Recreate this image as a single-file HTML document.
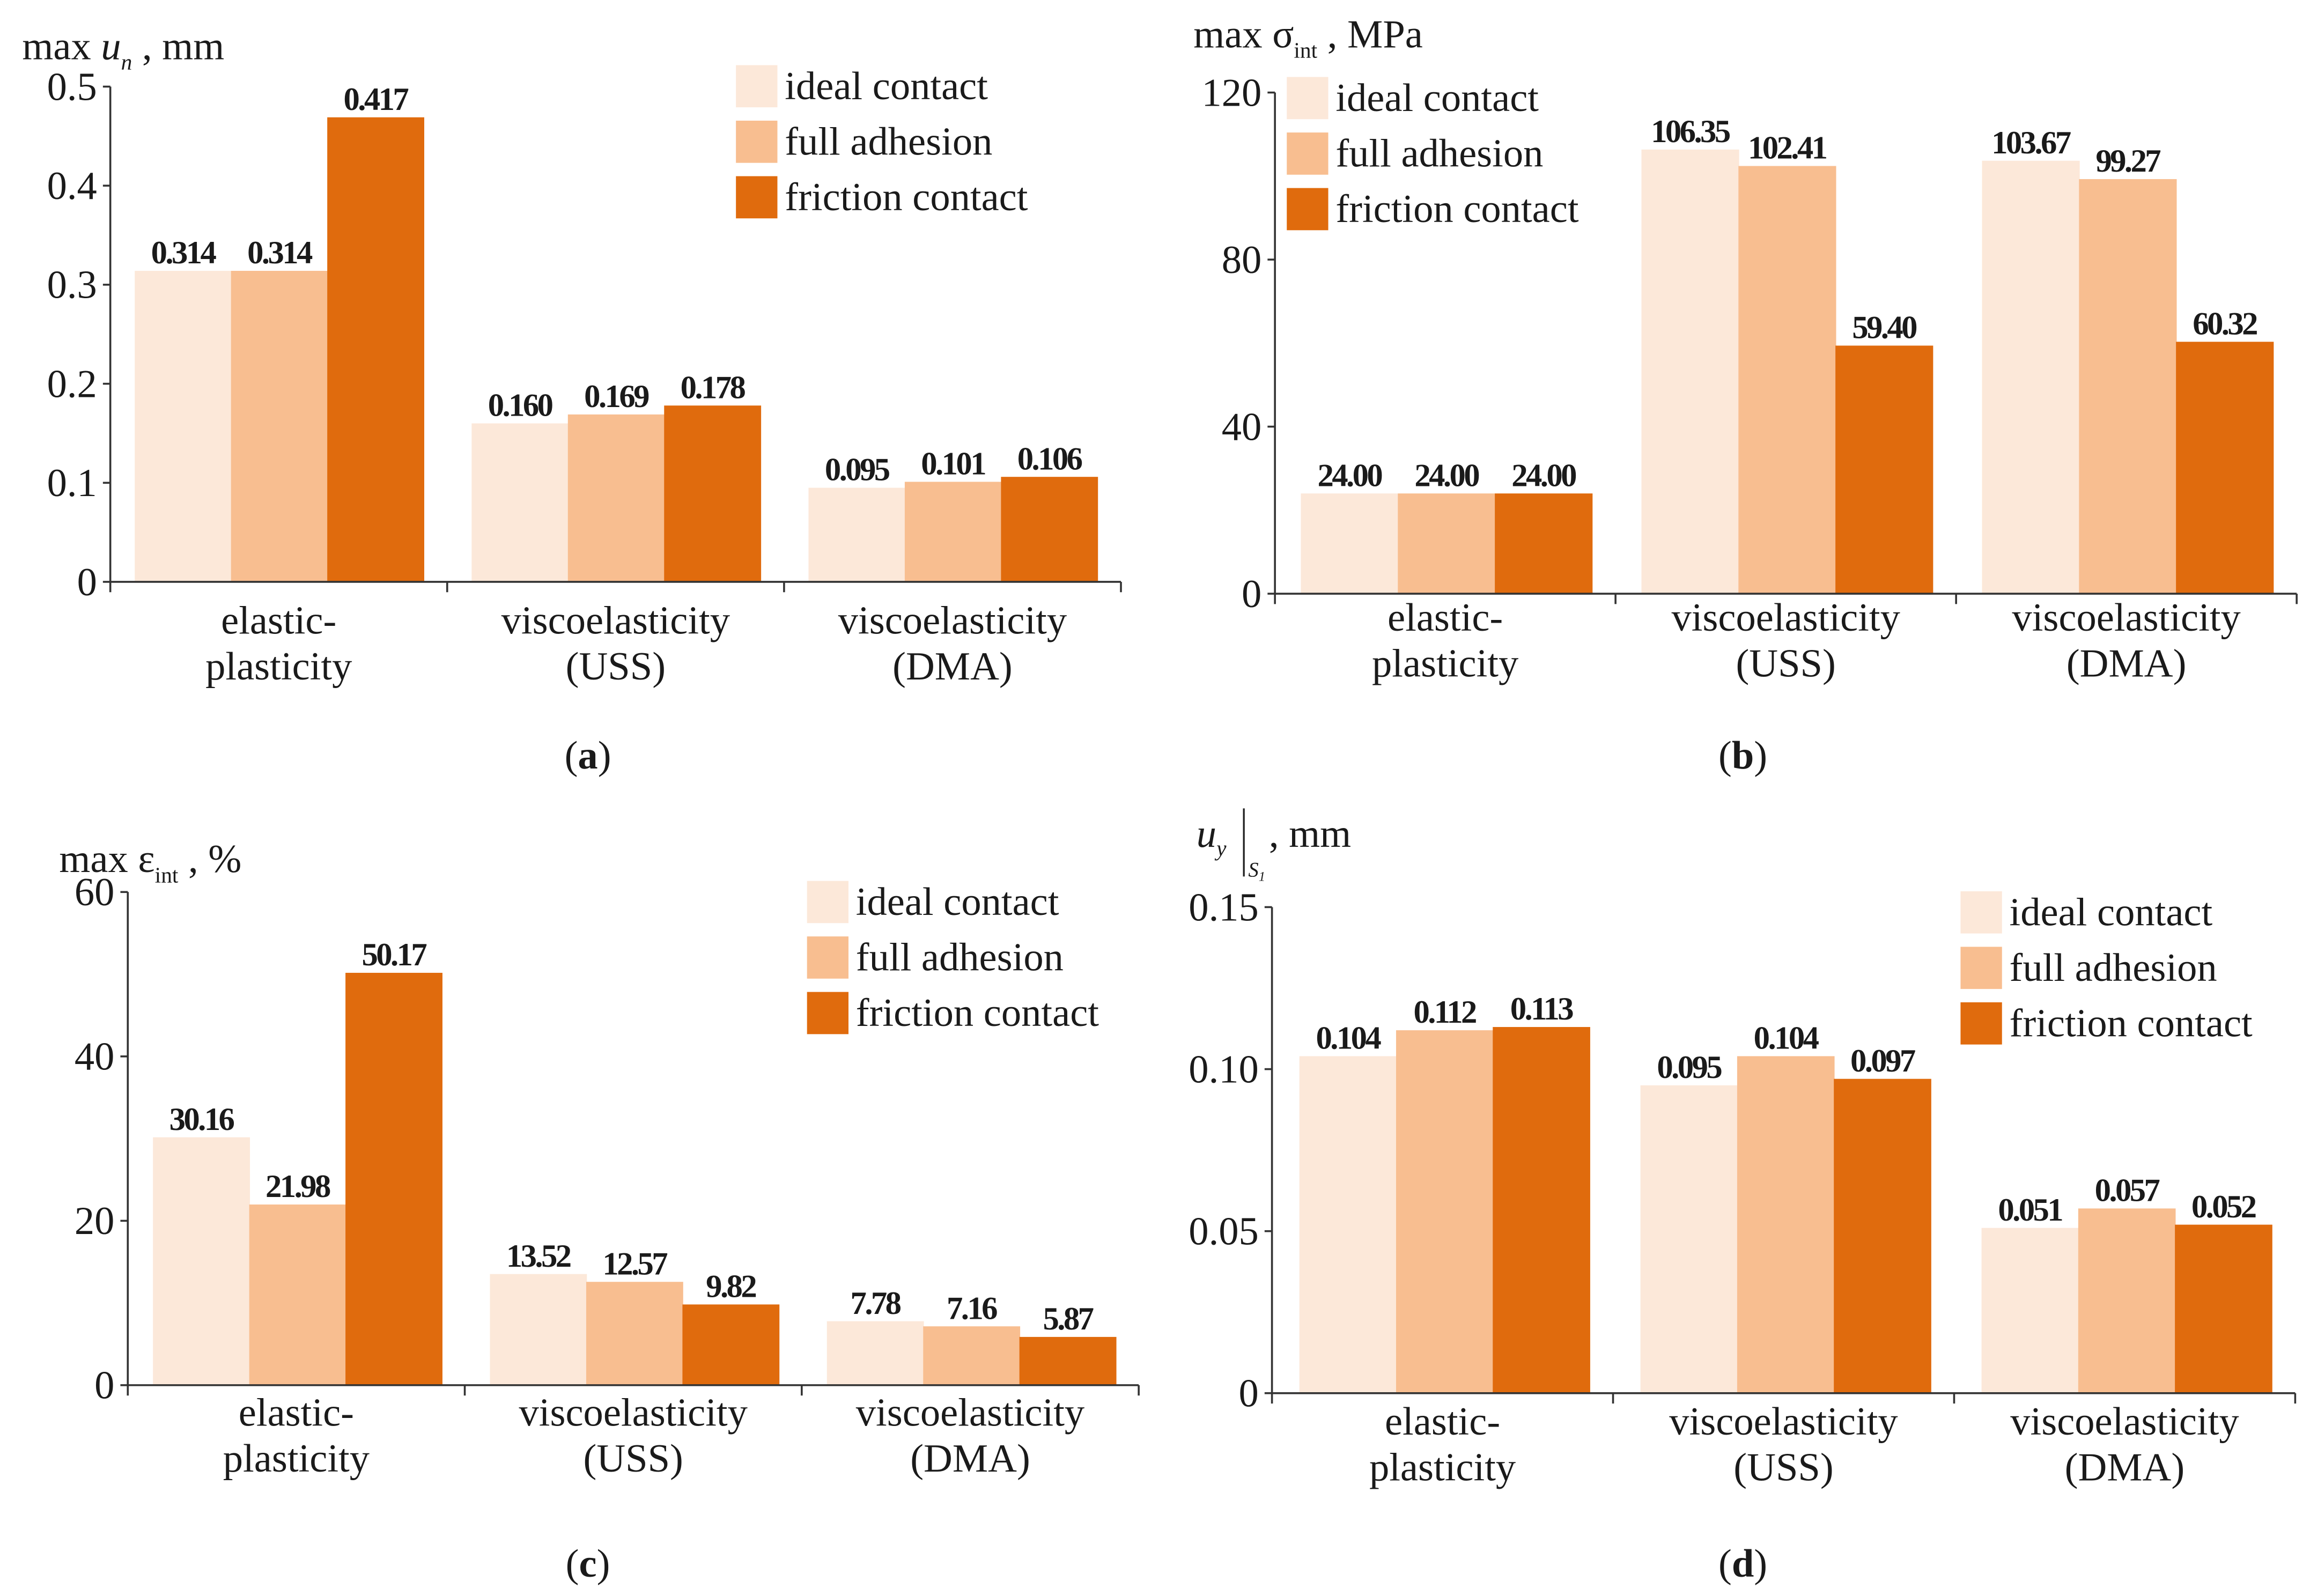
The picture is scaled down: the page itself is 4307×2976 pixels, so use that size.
<!DOCTYPE html>
<html><head><meta charset="utf-8"><style>
html,body{margin:0;padding:0;background:#fff}
svg{display:block}
svg text{font-family:"Liberation Serif","DejaVu Serif",serif;fill:#1a1a1a}
.v{font-weight:bold;font-size:22px;letter-spacing:-1.3px}
</style></head><body>
<svg id="fig" width="4307" height="2976" viewBox="0 0 1560 1078" preserveAspectRatio="none" xmlns="http://www.w3.org/2000/svg" font-family="Liberation Serif, DejaVu Serif, serif"></svg>
<script>
const categories = [["elastic-","plasticity"],["viscoelasticity","(USS)"],["viscoelasticity","(DMA)"]];
const seriesNames = ["ideal contact","full adhesion","friction contact"];
const colors = ["#fce8d9","#f8be90","#e06b0d"];
// panel a
const aIdeal = [0.314,0.160,0.095];
const aFull = [0.314,0.169,0.101];
const aFriction = [0.469,0.178,0.106];
const aLabels = [["0.314","0.314","0.417"],["0.160","0.169","0.178"],["0.095","0.101","0.106"]];
const aTicks = [0,0.1,0.2,0.3,0.4,0.5];
const aTickLabels = ["0","0.1","0.2","0.3","0.4","0.5"];
// panel b
const bIdeal = [24.00,106.35,103.67];
const bFull = [24.00,102.41,99.27];
const bFriction = [24.00,59.40,60.32];
const bLabels = [["24.00","24.00","24.00"],["106.35","102.41","59.40"],["103.67","99.27","60.32"]];
const bTicks = [0,40,80,120];
const bTickLabels = ["0","40","80","120"];
// panel c
const cIdeal = [30.16,13.52,7.78];
const cFull = [21.98,12.57,7.16];
const cFriction = [50.17,9.82,5.87];
const cLabels = [["30.16","21.98","50.17"],["13.52","12.57","9.82"],["7.78","7.16","5.87"]];
const cTicks = [0,20,40,60];
const cTickLabels = ["0","20","40","60"];
// panel d
const dIdeal = [0.104,0.095,0.051];
const dFull = [0.112,0.104,0.057];
const dFriction = [0.113,0.097,0.052];
const dLabels = [["0.104","0.112","0.113"],["0.095","0.104","0.097"],["0.051","0.057","0.052"]];
const dTicks = [0,0.05,0.10,0.15];
const dTickLabels = ["0","0.05","0.10","0.15"];

const NS="http://www.w3.org/2000/svg";
const svg=document.getElementById('fig');
function mk(tag,attrs,parent){const e=document.createElementNS(NS,tag);for(const k in attrs)e.setAttribute(k,attrs[k]);if(tag==='text')e.setAttribute('font-family','Liberation Serif, DejaVu Serif, serif');(parent||svg).appendChild(e);return e;}

function panel(p){
  const g=mk('g',{});
  
  
  const y=v=>p.y0-(v-p.ticks[0])/(p.ticks[p.ticks.length-1]-p.ticks[0])*(p.y0-p.yTop);
  const band=(p.x1-p.x0)/3;
  const series=[p.s0,p.s1,p.s2];
  for(let c=0;c<3;c++){
    for(let s=0;s<3;s++){
      const bx=p.x0+c*band+p.pad+s*p.bw;
      const r=mk('rect',{x:bx,y:y(series[s][c]),width:p.bw+0.5,height:p.y0-y(series[s][c]),fill:colors[s]},g);
      
      
      const t=mk('text',{x:bx+p.bw/2,y:y(series[s][c])-5,'text-anchor':'middle',class:'v'},g);
      t.textContent=p.labels[c][s];
      
      
    }
    categories[c].forEach((ln,i)=>{
      const t=mk('text',{x:p.x0+c*band+band/2,y:p.catY+i*31,'text-anchor':'middle','font-size':27},g);
      t.textContent=ln;
      
      
    });
  }
  mk('line',{x1:p.x0,y1:p.yTop,x2:p.x0,y2:p.y0+7,stroke:'#333','stroke-width':1.3},g);
  mk('line',{x1:p.x0,y1:p.y0,x2:p.x1,y2:p.y0,stroke:'#333','stroke-width':1.3},g);
  for(let c=1;c<=3;c++) mk('line',{x1:p.x0+c*band,y1:p.y0,x2:p.x0+c*band,y2:p.y0+7,stroke:'#333','stroke-width':1.3},g);
  p.ticks.forEach((tv,i)=>{
    mk('line',{x1:p.x0-5,y1:y(tv),x2:p.x0,y2:y(tv),stroke:'#333','stroke-width':1.3},g);
    const t=mk('text',{x:p.x0-9,y:y(tv)+9,'text-anchor':'end','font-size':27},g);
    t.textContent=p.tickLabels[i];
    
    
  });
  seriesNames.forEach((n,i)=>{
    mk('rect',{x:p.lx,y:p.ly+i*37.5,width:28,height:28.5,fill:colors[i]},g);
    const t=mk('text',{x:p.lx+33,y:p.ly+i*37.5+23,'font-size':27},g);
    t.textContent=n;
    
    
  });
  const cap=mk('text',{x:p.capX,y:p.capY+9,'text-anchor':'middle','font-size':27},g);
  cap.innerHTML='(<tspan font-weight="bold">'+p.id+'</tspan>)';
  
  
  return g;
}

panel({id:'a',s0:aIdeal,s1:aFull,s2:aFriction,labels:aLabels,ticks:aTicks,tickLabels:aTickLabels,x0:74.5,x1:757,y0:393,yTop:58.5,pad:16.5,bw:65,catY:428,lx:497,ly:44,capX:397,capY:510});
panel({id:'b',s0:bIdeal,s1:bFull,s2:bFriction,labels:bLabels,ticks:bTicks,tickLabels:bTickLabels,x0:861,x1:1551,y0:401,yTop:62.5,pad:17.5,bw:65.5,catY:426,lx:869,ly:52,capX:1177,capY:510});
panel({id:'c',s0:cIdeal,s1:cFull,s2:cFriction,labels:cLabels,ticks:cTicks,tickLabels:cTickLabels,x0:86.3,x1:769,y0:935.6,yTop:602.5,pad:17,bw:65,catY:963,lx:545,ly:595,capX:397,capY:1056});
panel({id:'d',s0:dIdeal,s1:dFull,s2:dFriction,labels:dLabels,ticks:dTicks,tickLabels:dTickLabels,x0:859,x1:1550,y0:941,yTop:612.7,pad:18.5,bw:65.3,catY:969,lx:1324,ly:602,capX:1177,capY:1056});

const ta=mk('text',{x:15,y:40,'font-size':27});
ta.innerHTML='max <tspan font-style="italic">u</tspan><tspan font-style="italic" font-size="15" dy="7">n</tspan><tspan dy="-7"> , mm</tspan>';


const tb=mk('text',{x:806,y:32,'font-size':27});
tb.innerHTML='max σ<tspan font-size="15" dy="7">int</tspan><tspan dy="-7"> , MPa</tspan>';


const tc=mk('text',{x:40,y:589,'font-size':27});
tc.innerHTML='max ε<tspan font-size="15" dy="7">int</tspan><tspan dy="-7"> , %</tspan>';


const td=mk('text',{x:808,y:572,'font-size':27});
td.innerHTML='<tspan font-style="italic">u</tspan><tspan font-style="italic" font-size="15" dy="6">y</tspan><tspan dx="22" dy="-6"> , mm</tspan>';


mk('line',{x1:840,y1:546,x2:840,y2:592,stroke:'#222','stroke-width':1.2});
const ts=mk('text',{x:843,y:592,'font-size':14,'font-style':'italic'});
ts.innerHTML='S<tspan font-size="9" dy="3">1</tspan>';


</script>
</body></html>
